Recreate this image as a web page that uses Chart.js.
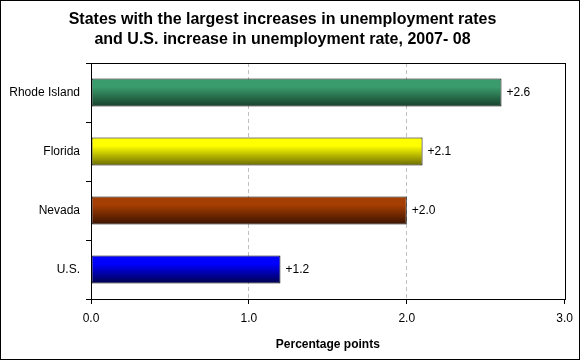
<!DOCTYPE html>
<html>
<head>
<meta charset="utf-8">
<script src="https://cdn.jsdelivr.net/npm/chart.js@4/dist/chart.umd.min.js"></script>
<style>
  html, body { margin: 0; padding: 0; background: #fff; }
  canvas { display: block; }
</style>
</head>
<body>
<canvas id="chart" width="580" height="360"></canvas>
<script>
// data
const categories = ['Rhode Island', 'Florida', 'Nevada', 'U.S.'];
const increases = [2.6, 2.1, 2.0, 1.2];
const barLabels = ['+2.6', '+2.1', '+2.0', '+1.2'];
const xTicks = ['0.0', '1.0', '2.0', '3.0'];

// top / bottom colours of each bar gradient
const topColors = ['#3a9c6c', '#ffff00', '#a53e02', '#0000ff'];
const bottomColors = ['#17402b', '#6a6a00', '#3a1200', '#00004a'];

const BAR_PCT = 0.475;

function barGradient(context) {
  const chart = context.chart;
  const yScale = chart.scales.y;
  if (!yScale || !chart.chartArea) return topColors[context.dataIndex];
  const center = yScale.getPixelForValue(context.dataIndex);
  const half = (yScale.height / categories.length) * BAR_PCT / 2;
  const g = chart.ctx.createLinearGradient(0, center - half, 0, center + half);
  g.addColorStop(0, topColors[context.dataIndex]);
  g.addColorStop(0.3, topColors[context.dataIndex]);
  g.addColorStop(1, bottomColors[context.dataIndex]);
  return g;
}

// draws value labels, plot frame and outer frame
const extras = {
  id: 'extras',
  afterDatasetsDraw(chart) {
    const ctx = chart.ctx;
    const meta = chart.getDatasetMeta(0);
    ctx.save();
    ctx.font = '12px Arial';
    ctx.fillStyle = '#000';
    ctx.textBaseline = 'middle';
    ctx.textAlign = 'left';
    meta.data.forEach((bar, i) => {
      ctx.fillText(barLabels[i], bar.x + 5, bar.y);
    });
    ctx.restore();
  },
  afterDraw(chart) {
    const ctx = chart.ctx;
    const a = chart.chartArea;
    ctx.save();
    ctx.strokeStyle = '#000';
    ctx.lineWidth = 1;
    ctx.setLineDash([]);
    ctx.strokeRect(Math.round(a.left) + 0.5, Math.round(a.top) + 0.5,
      Math.round(a.right - a.left), Math.round(a.bottom - a.top));
    ctx.strokeRect(0.5, 0.5, chart.width - 1, chart.height - 1);
    ctx.restore();
  }
};

new Chart(document.getElementById('chart'), {
  type: 'bar',
  data: {
    labels: categories,
    datasets: [{
      data: increases,
      backgroundColor: barGradient,
      borderColor: '#000',
      borderWidth: 1,
      borderSkipped: false,
      barPercentage: BAR_PCT,
      categoryPercentage: 1
    }]
  },
  options: {
    indexAxis: 'y',
    responsive: false,
    animation: false,
    layout: { padding: { left: 0, right: 15, top: 0, bottom: 0 } },
    plugins: {
      legend: { display: false },
      tooltip: { enabled: false },
      title: {
        display: true,
        text: ['States with the largest increases in unemployment rates',
               'and U.S. increase in unemployment rate, 2007- 08'],
        color: '#000',
        font: { family: 'Arial', size: 16, weight: 'bold', lineHeight: 1.25 },
        padding: { top: 10, bottom: 13 }
      }
    },
    scales: {
      x: {
        min: 0,
        max: 3,
        ticks: {
          stepSize: 1,
          color: '#000',
          font: { family: 'Arial', size: 12 },
          padding: 7,
          callback: (v, i) => xTicks[i]
        },
        grid: {
          color: (c) => (c.tick && (c.tick.value === 0 || c.tick.value === 3)) ? 'rgba(0,0,0,0)' : '#c0c0c0',
          tickColor: '#000',
          tickBorderDash: [],
          tickLength: 5
        },
        border: { color: '#000', width: 1, dash: [4, 3] },
        title: {
          display: true,
          text: 'Percentage points',
          color: '#000',
          font: { family: 'Arial', size: 12, weight: 'bold' },
          padding: { top: 4, bottom: 8 }
        },
        afterFit(scale) { scale.height = 61; }
      },
      y: {
        ticks: {
          color: '#000',
          font: { family: 'Arial', size: 12 },
          padding: 6
        },
        grid: {
          drawOnChartArea: false,
          tickColor: '#000',
          tickLength: 5,
          offset: true
        },
        border: { color: '#000', width: 1 },
        afterFit(scale) { scale.width = 91; }
      }
    }
  },
  plugins: [extras]
});
</script>
</body>
</html>
